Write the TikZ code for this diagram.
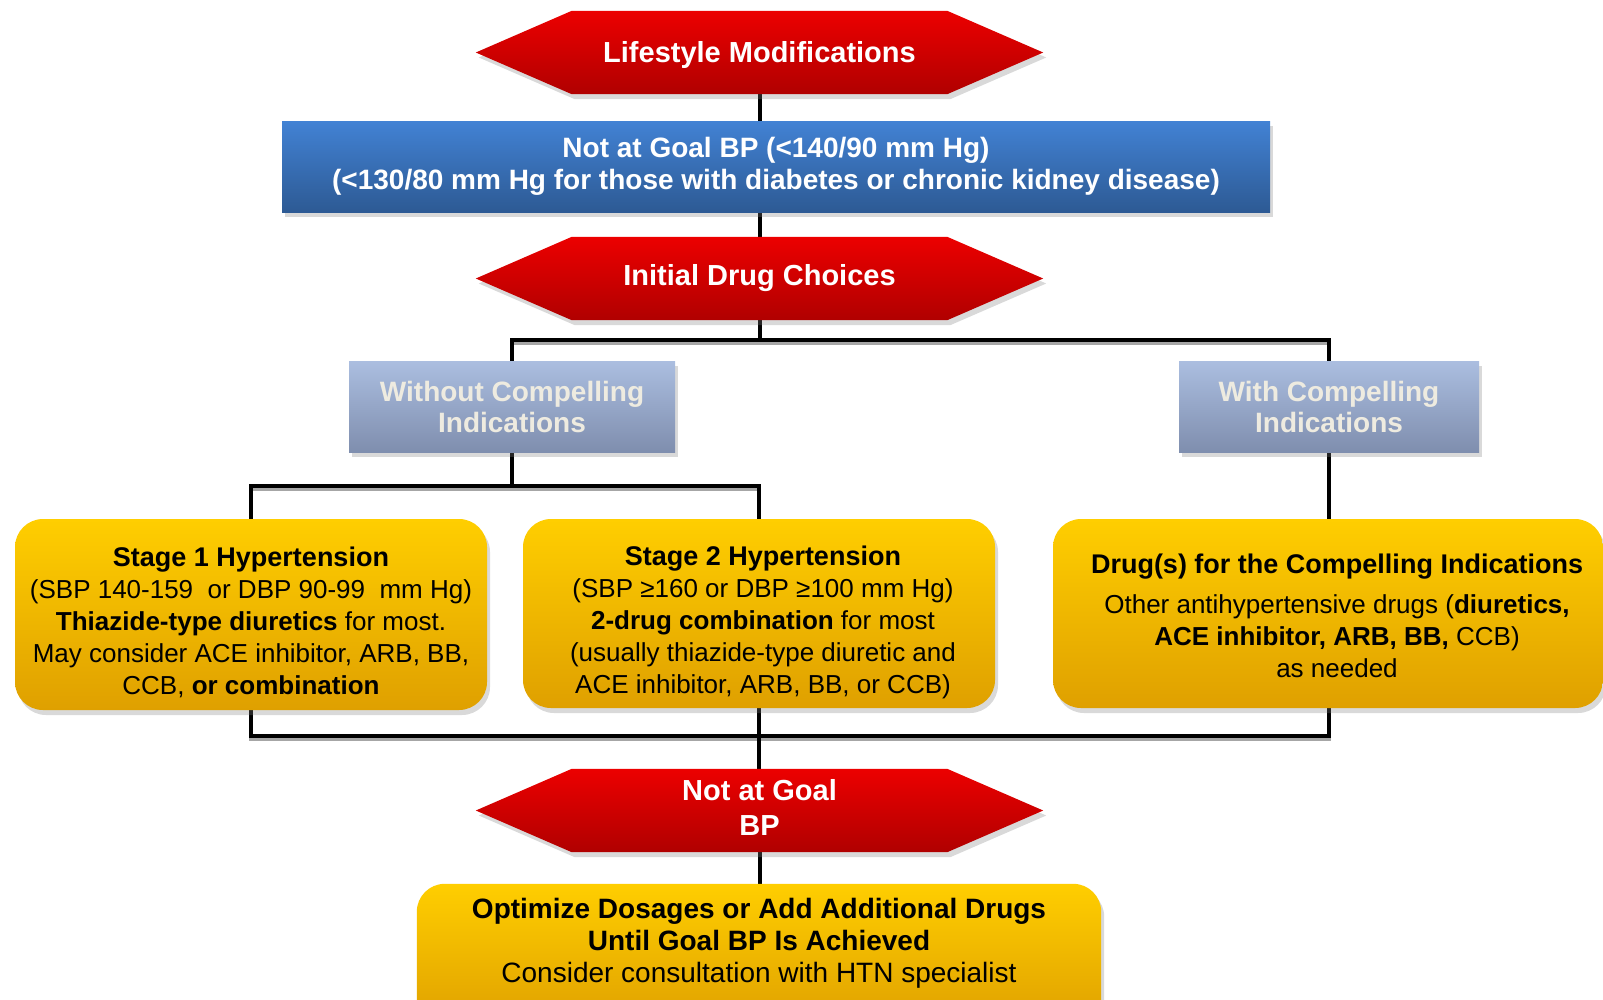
\documentclass[tikz,border=0pt]{standalone}
\usepackage{fontspec}
\setmainfont{Liberation Sans}
\usetikzlibrary{shadows}
\pgfdeclarelayer{bg}
\pgfsetlayers{bg,main}
\definecolor{redtop}{HTML}{EC0000}
\definecolor{redbot}{HTML}{B00000}
\definecolor{bluetop}{HTML}{4282D4}
\definecolor{bluebot}{HTML}{2D5A94}
\definecolor{graytop}{HTML}{ABBEE0}
\definecolor{graybot}{HTML}{7F8EAE}
\definecolor{graytext}{HTML}{EEEBE0}
\definecolor{yeltop}{HTML}{FFCE00}
\definecolor{yelbot}{HTML}{DFA000}
\tikzset{
  sh/.style={drop shadow={opacity=0.3, shadow xshift=3pt, shadow yshift=-5pt}},
  hexnode/.style={minimum width=567pt, minimum height=83pt, inner sep=0pt, text=white, align=center, font=\fontsize{29}{34}\selectfont\bfseries},
  hexfill/.style={sh, top color=redtop, bottom color=redbot, draw=none},
  bluebox/.style={sh, top color=bluetop, bottom color=bluebot, minimum width=988pt, minimum height=91pt, inner sep=0pt, text=white, align=center, font=\fontsize{28}{32}\selectfont\bfseries},
  graybox/.style={sh, top color=graytop, bottom color=graybot, minimum height=91pt, inner sep=0pt, text=graytext, align=center, font=\fontsize{28}{31}\selectfont\bfseries},
  yelbox/.style={sh, top color=yeltop, bottom color=yelbot, rounded corners=28pt, inner sep=0pt, align=center, font=\fontsize{26}{32}\selectfont},
  yelfill/.style={sh, top color=yeltop, bottom color=yelbot, rounded corners=28pt},
  plaintext/.style={inner sep=0pt, align=center, font=\fontsize{26}{32}\selectfont},
  conn/.style={draw=black, line width=4pt, preaction={draw=black!35, line width=4pt, transform canvas={yshift=-3pt}}},
}
\newcommand\hexbg[1]{\path[hexfill] (#1.west) -- ([xshift=96pt]#1.north west) -- ([xshift=-96pt]#1.north east) -- (#1.east) -- ([xshift=-96pt]#1.south east) -- ([xshift=96pt]#1.south west) -- cycle;}
\begin{document}
\begin{tikzpicture}[x=1pt,y=-1pt]
\useasboundingbox (0,0) rectangle (1603,999);
\clip (0,0) rectangle (1603,999);

\node[hexnode] (life) at (759.5,52.5) {};
\node[plaintext, text=white, font=\fontsize{29}{34}\selectfont\bfseries] (lifetext) at (759.5,54.5) {Lifestyle Modifications};
\node[bluebox] (goal) at (776,166.5) {Not at Goal BP (<140/90 mm Hg)\\(<130/80 mm Hg for those with diabetes or chronic kidney disease)};
\node[hexnode] (init) at (759.5,278.5) {Initial Drug Choices};
\node[graybox, minimum width=326pt] (without) at (512,406.5) {Without Compelling\\Indications};
\node[graybox, minimum width=300pt] (with) at (1329,406.5) {With Compelling\\Indications};

\node[yelbox, minimum width=472pt, minimum height=191pt] (st1) at (251,614.5) {};
\node[plaintext] (st1text) at (251,622)
 {{\fontsize{27}{32}\selectfont\bfseries Stage 1 Hypertension}\\
  (SBP 140-159\ \ or DBP 90-99\ \ mm Hg)\\
  \textbf{Thiazide-type diuretics} for most.\\
  May consider ACE inhibitor, ARB, BB,\\
  CCB, \textbf{or combination}};
\node[yelbox, minimum width=472pt, minimum height=189pt] (st2) at (759,613.5) {};
\node[plaintext] (st2text) at (763,622)
 {{\fontsize{27}{32}\selectfont\bfseries Stage 2 Hypertension}\\
  (SBP ≥160 or DBP ≥100 mm Hg)\\
  \textbf{2-drug combination} for most\\
  (usually thiazide-type diuretic and\\
  ACE inhibitor, ARB, BB, or CCB)};
\node[yelbox, minimum width=550pt, minimum height=189pt] (drugs) at (1328,613.5) {};
\node[plaintext] (drugstext) at (1337,616)
 {{\fontsize{27}{32}\selectfont\bfseries Drug(s) for the Compelling Indications}\\[8pt]
  Other antihypertensive drugs (\textbf{diuretics,}\\
  \textbf{ACE inhibitor, ARB, BB,} CCB)\\
  as needed};

\node[hexnode] (notgoal) at (759.5,810.5) {};
\node[plaintext, text=white, font=\fontsize{29}{35}\selectfont\bfseries] (notgoaltext) at (759.5,807.5) {Not at Goal\\BP};
\node[plaintext, minimum width=684pt, minimum height=114pt, font=\fontsize{28}{32}\selectfont] (final) at (759,943.5)
 {\textbf{Optimize Dosages or Add Additional Drugs}\\
  \textbf{Until Goal BP Is Achieved}\\
  Consider consultation with HTN specialist};

\coordinate (b1) at (758.5,340);
\coordinate (b2) at (758.5,486);
\coordinate (b3) at (758.5,736);

\begin{pgfonlayer}{bg}
\draw[conn] (life.south) -- (life.south |- goal.north);
\draw[conn] (goal.south -| init.north) -- (init.north);
\draw[conn] (init.south) -- (init.south |- b1);
\draw[conn] (without.north) -- (without.north |- b1) -- (with.north |- b1) -- (with.north);
\draw[conn] (without.south) -- (without.south |- b2);
\draw[conn] (st1.north) -- (st1.north |- b2) -- (st2.north |- b2) -- (st2.north);
\draw[conn] (with.south) -- (with.south |- drugs.north);
\draw[conn] (st1.south) -- (st1.south |- b3) -- (with.south |- b3) -- (with.south |- drugs.south);
\draw[conn] (st2.south) -- (st2.south |- notgoal.north);
\draw[conn] (notgoal.south) -- (notgoal.south |- final.north);
\hexbg{life}
\hexbg{init}
\hexbg{notgoal}
\path[yelfill] ([yshift=2.5pt]final.north west) rectangle ([yshift=-140pt]final.north east);
\end{pgfonlayer}
\end{tikzpicture}
\end{document}
